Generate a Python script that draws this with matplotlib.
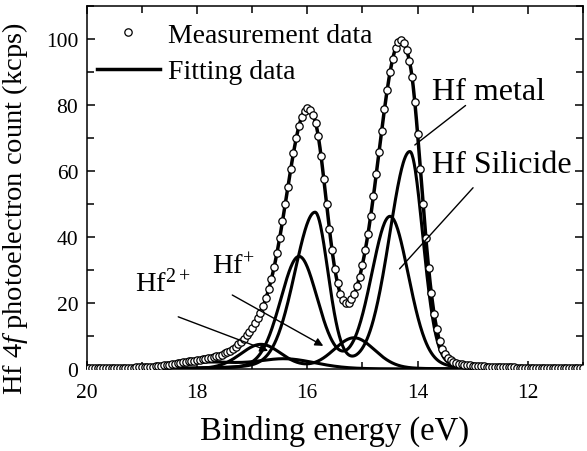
import numpy as np
import matplotlib
matplotlib.use("Agg")
import matplotlib.pyplot as plt
from matplotlib.ticker import MultipleLocator

plt.rcParams["font.family"] = ["Liberation Serif", "DejaVu Serif"]
plt.rcParams["mathtext.fontset"] = "custom"
plt.rcParams["mathtext.rm"] = "Liberation Serif"
plt.rcParams["mathtext.it"] = "Liberation Serif:italic"

# measured spectrum, 20.00 eV down to 11.00 eV in 0.05 eV steps (kcps)
meas_counts = [
    0.2, 0.2, 0.2, 0.3, 0.3, 0.3, 0.3, 0.3, 0.3, 0.3, 0.3, 0.3, 0.3, 0.3, 0.4, 0.4, 0.4, 0.4, 0.5, 0.5,
    0.5, 0.6, 0.6, 0.7, 0.7, 0.8, 0.9, 1.0, 1.1, 1.2, 1.3, 1.4, 1.5, 1.7, 1.8, 2.0, 2.1, 2.3, 2.4, 2.5,
    2.7, 2.8, 3.0, 3.1, 3.2, 3.4, 3.6, 3.8, 4.0, 4.3, 4.7, 5.1, 5.6, 6.2, 6.8, 7.5, 8.3, 9.2, 10.2, 11.3,
    12.5, 13.8, 15.3, 17.0, 19.1, 21.4, 24.1, 27.3, 31.0, 35.1, 39.7, 44.7, 49.9, 55.2, 60.5, 65.5, 69.9,
    73.6, 76.4, 78.2, 78.9, 78.5, 77.0, 74.6, 70.4, 64.5, 57.4, 49.9, 42.5, 35.9, 30.2, 25.9, 22.7, 20.8,
    20.0, 20.1, 21.1, 22.7, 25.0, 28.0, 31.6, 35.9, 40.8, 46.3, 52.4, 58.9, 65.6, 72.2, 78.7, 84.6, 89.8,
    94.0, 97.1, 98.9, 99.5, 98.7, 96.7, 93.4, 88.4, 80.8, 71.3, 60.7, 49.9, 39.7, 30.6, 22.9, 16.7, 12.0,
    8.5, 6.0, 4.4, 3.3, 2.6, 2.1, 1.8, 1.6, 1.4, 1.3, 1.2, 1.1, 1.0, 0.9, 0.9, 0.8, 0.8, 0.7, 0.7, 0.7,
    0.6, 0.6, 0.6, 0.5, 0.5, 0.5, 0.5, 0.5, 0.4, 0.4, 0.4, 0.4, 0.4, 0.4, 0.4, 0.3, 0.3, 0.3, 0.3, 0.3,
    0.3, 0.3, 0.3, 0.3, 0.3, 0.2, 0.2, 0.2, 0.2, 0.2, 0.2, 0.2, 0.2,
]
meas_energy = np.round(20 - 0.05 * np.arange(len(meas_counts)), 2)

# fitted doublets (4f7/2, 4f5/2): centre [eV], height [kcps], HWHM high-BE side / low-BE side
metal_centre = [14.14, 15.86]
metal_height = [65.7, 47.0]
metal_hwhm = [0.44, 0.28]
silicide_centre = [14.50, 16.15]
silicide_height = [46.0, 33.8]
silicide_hwhm = [0.40, 0.40]
hf1_centre = [15.15, 16.84]
hf1_height = [9.4, 7.4]
hf1_hwhm = [0.44, 0.44]
hf2_centre = [16.40, 17.80]
hf2_height = [3.0, 2.0]
hf2_hwhm = [0.60, 0.65]
lorentz_frac = 0.12


def doublet(x, centres, heights, hwhm):
    # pseudo-Voigt pair, asymmetric widths allowed
    y = np.zeros_like(x)
    for c, h in zip(centres, heights):
        w = np.where(x > c, hwhm[0], hwhm[1])
        u = ((x - c) / w) ** 2
        y += h * ((1 - lorentz_frac) * np.exp(-np.log(2) * u) + lorentz_frac / (1 + u))
    return y


energy = np.linspace(20, 11, 901)
comps = [
    doublet(energy, metal_centre, metal_height, metal_hwhm),
    doublet(energy, silicide_centre, silicide_height, silicide_hwhm),
    doublet(energy, hf1_centre, hf1_height, hf1_hwhm),
    doublet(energy, hf2_centre, hf2_height, hf2_hwhm),
]
fit = np.sum(comps, axis=0)

fig = plt.figure(figsize=(5.87, 4.52), dpi=100)
ax = fig.add_axes([0.1477, 0.1814, 0.8455, 0.8038])

for c in comps:
    ax.plot(energy, c, color="black", lw=2.2, zorder=2)
ax.plot(energy, fit, color="black", lw=2.5, zorder=2, label="Fitting data")
ax.plot(meas_energy, meas_counts, ls="none", marker="o", ms=5.3, mfc="white", mec="black",
        mew=0.9, zorder=3, label="Measurement data")

ax.set_xlim(20, 11)
ax.set_ylim(0, 110)
ax.xaxis.set_major_locator(MultipleLocator(2))
ax.xaxis.set_minor_locator(MultipleLocator(1))
ax.yaxis.set_major_locator(MultipleLocator(20))
ax.yaxis.set_minor_locator(MultipleLocator(10))
ax.tick_params(which="both", direction="in", top=True, right=True, width=1.1, labelsize=15.5)
ax.tick_params(which="major", length=5.5)
ax.tick_params(which="minor", length=5.0)
ax.tick_params(axis="x", pad=10)
ax.tick_params(axis="y", pad=6)
for s in ax.spines.values():
    s.set_linewidth(1.1)

ax.set_xlabel("Binding energy (eV)", fontsize=23.5)
ax.set_ylabel("Hf 4$f$ photoelectron count (kcps)", fontsize=20.5)
ax.xaxis.set_label_coords(0.5, -0.127)
ax.yaxis.set_label_coords(-0.115, 0.443)

h, l = ax.get_legend_handles_labels()
ax.legend(h[::-1], l[::-1], loc="upper left", bbox_to_anchor=(0.02, 0.953), frameon=False,
          fontsize=20, borderaxespad=0, borderpad=0, handlelength=2.27, handletextpad=0.29,
          labelspacing=0.39)

# peak labels and leader lines
ax.text(13.73, 81.8, "Hf metal", fontsize=23)
ax.text(13.73, 59.7, "Hf Silicide", fontsize=23)
ax.text(17.73, 28.8, "Hf$^{+}$", fontsize=20.5)
ax.text(19.12, 23.6, "Hf$^{2+}$", fontsize=20.5)
ax.annotate("", xy=(14.09, 67.3), xytext=(13.09, 80.3), arrowprops=dict(arrowstyle="-", lw=1))
ax.annotate("", xy=(14.36, 29.7), xytext=(12.96, 55.5), arrowprops=dict(arrowstyle="-", lw=1))
ax.annotate("", xy=(15.71, 7.0), xytext=(17.36, 22.4),
            arrowprops=dict(arrowstyle="-|>", lw=1, color="black", mutation_scale=12,
                            shrinkA=0, shrinkB=0))
ax.annotate("", xy=(16.71, 5.5), xytext=(18.34, 15.8),
            arrowprops=dict(arrowstyle="-|>", lw=1, color="black", mutation_scale=12,
                            shrinkA=0, shrinkB=0))

fig.savefig("out.png", dpi=100)
